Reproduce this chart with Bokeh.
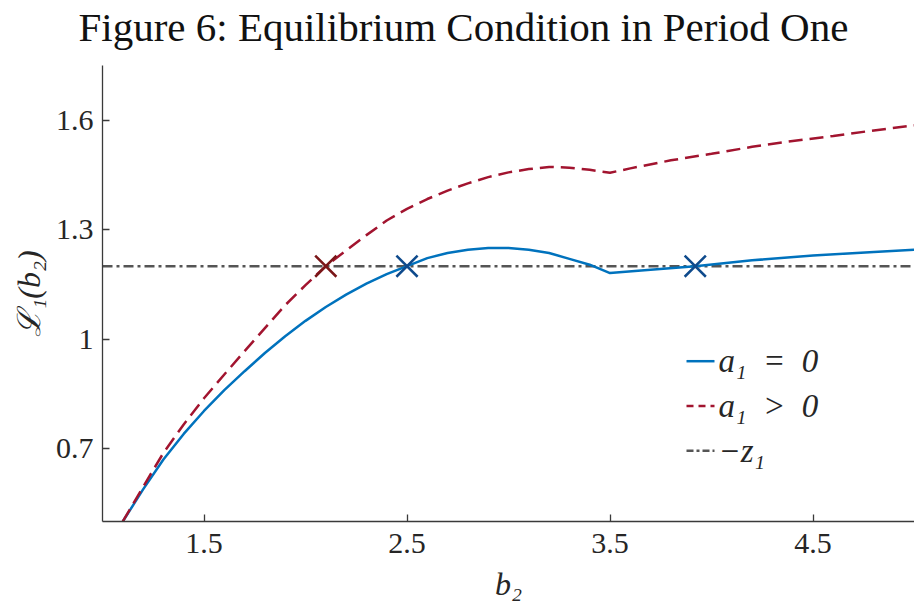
from bokeh.plotting import figure
from bokeh.layouts import column
from bokeh.models import Label, FixedTicker, Range1d, Title
from bokeh.embed import file_html
from bokeh.resources import INLINE

# ---------------- data ----------------
title_text = "Figure 6: Equilibrium Condition in Period One"
x_ticks = [1.5, 2.5, 3.5, 4.5]
y_ticks = [0.7, 1.0, 1.3, 1.6]
y_tick_text = ["0.7", "1", "1.3", "1.6"]
legend_labels = ["a\u2081\u2002=\u20020", "a\u2081\u2002>\u20020", "\u2212z\u2081"]

# a1 = 0 (solid blue)
b2_a0 = [1.10, 1.20, 1.30, 1.40, 1.50, 1.60, 1.70, 1.80, 1.90, 2.00,
         2.10, 2.20, 2.30, 2.40, 2.50, 2.60, 2.70, 2.80, 2.90, 3.00,
         3.10, 3.20, 3.30, 3.40, 3.50, 3.70, 3.92, 4.20, 4.50, 4.80, 5.00]
L_a0 = [0.500, 0.588, 0.670, 0.740, 0.803, 0.860, 0.912, 0.962, 1.008, 1.050,
        1.088, 1.122, 1.152, 1.178, 1.200, 1.222, 1.236, 1.245, 1.250, 1.250,
        1.245, 1.236, 1.220, 1.204, 1.181, 1.190, 1.200, 1.216, 1.229, 1.239, 1.245]

# a1 > 0 (dashed red)
b2_apos = [1.10, 1.20, 1.30, 1.40, 1.50, 1.60, 1.70, 1.80, 1.90, 2.00,
           2.10, 2.20, 2.30, 2.40, 2.50, 2.60, 2.70, 2.80, 2.90, 3.00,
           3.10, 3.20, 3.30, 3.40, 3.50, 3.60, 3.80, 4.00, 4.20, 4.40,
           4.60, 4.80, 5.00]
L_apos = [0.500, 0.595, 0.688, 0.766, 0.838, 0.903, 0.967, 1.030, 1.093, 1.148,
          1.200, 1.243, 1.285, 1.325, 1.357, 1.384, 1.407, 1.427, 1.444, 1.457,
          1.466, 1.472, 1.470, 1.464, 1.456, 1.468, 1.490, 1.508, 1.527, 1.543,
          1.557, 1.572, 1.586]

# -z1 reference level
z_x = [1.0, 5.0]
z_y = [1.2, 1.2]

# equilibria
eq_a0_x = [2.5, 3.92]
eq_a0_y = [1.2, 1.2]
eq_apos_x = [2.1]
eq_apos_y = [1.2]

# ---------------- styling ----------------
FONT = "Liberation Serif"
BLUE = "#0072BD"
RED = "#A2142F"
DARK_BLUE = "#0E4A8C"
DARK_RED = "#7A1618"
GRAY = "#555555"
AX = "#3a3a3a"
W, H = 914, 604
TOP = 65
X0, X1, Y0, Y1 = 1.0, 5.0, 0.5, 1.75
FRAME_L, FRAME_R, FRAME_T, FRAME_B = 102, 914, 65, 523

# ---------------- title strip ----------------
head = figure(width=W, height=TOP, output_backend="svg", toolbar_location=None,
              x_axis_type=None, y_axis_type=None,
              x_range=Range1d(0, 1), y_range=Range1d(0, 1),
              min_border=0, min_border_left=0, min_border_right=0,
              min_border_top=0, min_border_bottom=0, title=None)
head.xgrid.visible = False
head.ygrid.visible = False
head.outline_line_color = None
head.add_layout(Title(text=title_text, align="left", offset=-24, standoff=2,
                      vertical_align="bottom", text_font=FONT,
                      text_font_size="41px", text_font_style="normal",
                      text_color="#111111"), "above")

# ---------------- main plot ----------------
p = figure(width=W, height=H - TOP, output_backend="svg", toolbar_location=None,
           x_range=Range1d(X0, X1), y_range=Range1d(Y0, Y1),
           min_border_left=FRAME_L, min_border_right=0, min_border_top=0,
           min_border_bottom=H - FRAME_B, title=None)
p.outline_line_color = None
p.xgrid.visible = False
p.ygrid.visible = False

for ax in (p.xaxis[0], p.yaxis[0]):
    ax.axis_line_color = AX
    ax.axis_line_width = 1.3
    ax.major_tick_line_color = AX
    ax.major_tick_line_width = 1.3
    ax.major_tick_in = 7
    ax.major_tick_out = 0
    ax.minor_tick_line_color = None
    ax.major_label_text_font = FONT
    ax.major_label_text_font_size = "30px"
    ax.major_label_text_color = "#262626"
    ax.axis_label_text_font = FONT
    ax.axis_label_text_font_size = "32px"
    ax.axis_label_text_font_style = "italic"
    ax.axis_label_text_color = "#262626"

p.xaxis.ticker = FixedTicker(ticks=x_ticks)
p.yaxis.ticker = FixedTicker(ticks=y_ticks)
p.yaxis.major_label_overrides = {t: s for t, s in zip(y_ticks, y_tick_text)}
p.xaxis.major_label_standoff = 12
p.yaxis.major_label_standoff = 9
p.xaxis.axis_label = "b\u2082"
p.yaxis.axis_label = "\u2112\u2081(b\u2082)"
p.xaxis.axis_label_standoff = 10
p.yaxis.axis_label_standoff = 6

r_z = p.line(z_x, z_y, line_color=GRAY, line_width=2.5, line_dash="10 4 3 4")
r_a0 = p.line(b2_a0, L_a0, line_color=BLUE, line_width=2.5)
r_apos = p.line(b2_apos, L_apos, line_color=RED, line_width=2.5, line_dash="14 7")
p.scatter(eq_apos_x, eq_apos_y, marker="x", size=30, line_color=DARK_RED, line_width=2.5)
p.scatter(eq_a0_x, eq_a0_y, marker="x", size=30, line_color=DARK_BLUE, line_width=2.5)

# ---------------- legend (drawn by hand) ----------------
def px_to_x(px):
    return X0 + (px - FRAME_L) * (X1 - X0) / (FRAME_R - FRAME_L)

def px_to_y(py):
    return Y1 - (py - FRAME_T) * (Y1 - Y0) / (FRAME_B - FRAME_T)

leg_styles = [dict(line_color=BLUE, line_width=2.5),
              dict(line_color=RED, line_width=2.5, line_dash="7 5"),
              dict(line_color=GRAY, line_width=2.5, line_dash="7 3 3 3")]
leg_rows_px = [362, 407, 452]
for lab, sty, row in zip(legend_labels, leg_styles, leg_rows_px):
    yy = px_to_y(row)
    p.line([px_to_x(686), px_to_x(714)], [yy, yy], **sty)
    p.add_layout(Label(x=px_to_x(718), y=yy, text=lab, text_align="left",
                       text_baseline="middle", text_font=FONT,
                       text_font_style="italic",
                       text_font_size="33px", text_color="#262626"))

layout = column(head, p, spacing=0)
open("out.html", "w").write(file_html(layout, INLINE))
